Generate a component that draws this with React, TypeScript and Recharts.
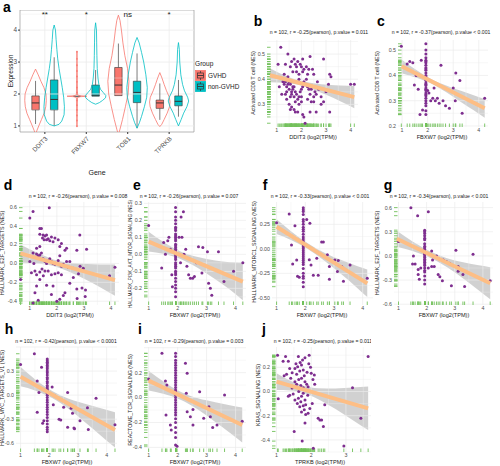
// 유전자 발현 바이올린 + 상관 산점도 패널 (Recharts)
import React from "react";
import {
  ComposedChart,
  Scatter,
  Area,
  XAxis,
  YAxis,
  ReferenceLine,
  ReferenceArea,
  ReferenceDot,
} from "recharts";

type Pt = [number, number];

// ---------- panel a : expression by group ----------
const genes = ["DDIT3", "FBXW7", "TOB1", "TPRKB"];
const signif = ["**", "*", "ns", "*"];

const gvhdLow = [1.06, 1.93, 0.72, 1.19];
const gvhdQ1 = [1.5, 1.93, 1.95, 1.55];
const gvhdMed = [1.72, 1.93, 2.28, 1.72];
const gvhdQ3 = [1.94, 1.93, 2.83, 1.81];
const gvhdHigh = [2.41, 1.93, 3.58, 2.33];

const nonLow = [1.0, 1.93, 0.93, 1.29];
const nonQ1 = [1.5, 1.93, 1.73, 1.63];
const nonMed = [1.83, 1.96, 2.05, 1.77];
const nonQ3 = [2.44, 2.28, 2.4, 1.94];
const nonHigh = [3.15, 2.75, 3.27, 2.44];

// violin outlines: expression level / relative density
const ddit3GvhdY = [2.78, 2.6, 2.4, 2.2, 2.0, 1.8, 1.6, 1.4, 1.2, 1.0, 0.85, 0.72];
const ddit3GvhdD = [0, 0.25, 0.5, 0.78, 0.97, 1.0, 0.95, 0.8, 0.55, 0.3, 0.12, 0];
const ddit3NonY = [4.16, 4.0, 3.7, 3.4, 3.1, 2.8, 2.5, 2.2, 1.9, 1.6, 1.35, 1.15, 1.05, 1.0];
const ddit3NonD = [0, 0.12, 0.18, 0.25, 0.33, 0.45, 0.6, 0.75, 0.88, 0.95, 0.92, 0.7, 0.45, 0];
const fbxw7GvhdY = [3.35, 2.5, 1.97, 1.945, 1.93, 1.915, 1.89, 1.4, 0.98];
const fbxw7GvhdD = [0, 0.03, 0.05, 0.3, 0.92, 0.3, 0.05, 0.03, 0];
const fbxw7NonY = [4.23, 4.0, 3.6, 3.2, 2.8, 2.5, 2.3, 2.15, 2.05, 1.95, 1.88, 1.8, 1.73, 1.68];
const fbxw7NonD = [0, 0.08, 0.1, 0.12, 0.15, 0.22, 0.3, 0.45, 0.7, 0.95, 0.92, 0.65, 0.35, 0];
const tob1GvhdY = [4.47, 4.3, 4.0, 3.6, 3.2, 2.8, 2.4, 2.0, 1.6, 1.2, 0.9, 0.72];
const tob1GvhdD = [0, 0.15, 0.28, 0.42, 0.6, 0.85, 0.98, 0.9, 0.65, 0.38, 0.15, 0];
const tob1NonY = [3.77, 3.6, 3.3, 3.0, 2.6, 2.2, 1.9, 1.6, 1.3, 1.1, 0.93];
const tob1NonD = [0, 0.2, 0.42, 0.62, 0.82, 0.95, 0.9, 0.68, 0.42, 0.22, 0];
const tprkbGvhdY = [2.67, 2.5, 2.3, 2.1, 1.9, 1.75, 1.6, 1.4, 1.2, 1.05, 0.98];
const tprkbGvhdD = [0, 0.2, 0.4, 0.62, 0.88, 0.95, 0.9, 0.68, 0.4, 0.18, 0];
const tprkbNonY = [3.61, 3.4, 3.0, 2.6, 2.3, 2.1, 1.9, 1.78, 1.6, 1.4, 1.2, 1.0];
const tprkbNonD = [0, 0.08, 0.12, 0.22, 0.38, 0.56, 0.85, 0.95, 0.78, 0.48, 0.25, 0];

const fbxw7GvhdJitter = [3.32, 3.1, 2.9, 2.72, 2.55, 2.38, 2.2, 2.05, 1.8, 1.65, 1.5, 1.33, 1.17, 0.99];

// ---------- scatter panels ----------
const FBXW7_MODE = 1.93;

const bPoints: Pt[] = [
  [1.16, 0.527], [1.45, 0.5], [1.05, 0.46], [1.35, 0.46], [1.55, 0.45], [1.6, 0.47], [1.7, 0.48], [1.75, 0.46],
  [1.8, 0.45], [1.85, 0.47], [1.95, 0.46], [2.0, 0.45], [2.05, 0.48], [2.35, 0.49], [2.9, 0.48], [1.8, 0.43],
  [1.9, 0.42], [2.05, 0.43], [2.1, 0.44], [2.2, 0.45], [2.25, 0.42], [2.3, 0.44], [2.45, 0.44], [2.5, 0.42],
  [1.9, 0.4], [1.45, 0.41], [1.25, 0.39], [1.3, 0.38], [1.35, 0.39], [1.4, 0.37], [1.45, 0.38], [1.5, 0.39],
  [1.55, 0.38], [1.6, 0.39], [1.65, 0.37], [1.1, 0.37], [1.4, 0.35], [1.5, 0.36], [1.6, 0.35], [1.65, 0.36],
  [1.7, 0.37], [1.2, 0.34], [1.35, 0.34], [1.4, 0.32], [1.55, 0.33], [1.6, 0.34], [1.7, 0.33], [1.75, 0.35],
  [1.8, 0.34], [1.85, 0.32], [1.9, 0.33], [1.95, 0.35], [2.0, 0.36], [2.05, 0.37], [2.1, 0.39], [2.15, 0.38],
  [2.2, 0.4], [2.25, 0.37], [2.3, 0.36], [2.35, 0.34], [2.4, 0.36], [2.5, 0.33], [2.55, 0.35], [2.6, 0.34],
  [2.7, 0.36], [2.65, 0.39], [2.0, 0.33], [2.25, 0.32], [2.4, 0.31], [2.5, 0.31], [2.0, 0.31], [1.9, 0.3],
  [1.75, 0.31], [1.5, 0.3], [1.6, 0.29], [1.55, 0.28], [1.7, 0.28], [1.75, 0.27], [1.85, 0.27], [2.05, 0.26],
  [2.1, 0.25], [2.35, 0.27], [2.6, 0.27], [2.15, 0.225], [2.8, 0.33], [2.8, 0.3], [2.9, 0.31], [3.0, 0.35],
  [3.1, 0.38], [3.15, 0.42], [3.2, 0.41], [3.15, 0.27], [4.0, 0.38], [4.15, 0.38], [1.65, 0.43], [1.3, 0.42],
];
const bFit = [0.72, 0.416, 4.15, 0.329];
const bBandX = [0.72, 1.3, 1.9, 2.5, 3.1, 3.6, 4.15];
const bBandLo = [0.388, 0.386, 0.377, 0.358, 0.334, 0.311, 0.285];
const bBandHi = [0.444, 0.416, 0.395, 0.384, 0.378, 0.375, 0.373];

const cOther: Pt[] = [
  [0.97, 0.515], [1.2, 0.445], [1.3, 0.455], [1.42, 0.45], [1.48, 0.362], [1.55, 0.4], [1.63, 0.345], [1.7, 0.245],
  [1.8, 0.263], [1.75, 0.46], [2.05, 0.33], [2.0, 0.34], [2.12, 0.3], [2.2, 0.31], [2.25, 0.35], [2.3, 0.3],
  [2.38, 0.31], [2.45, 0.29], [2.52, 0.44], [2.6, 0.3], [2.7, 0.28], [2.85, 0.27], [3.0, 0.35], [3.1, 0.41],
  [3.26, 0.38], [3.08, 0.3], [3.35, 0.25], [4.23, 0.31],
];
const cColumn = [0.525, 0.5, 0.485, 0.47, 0.46, 0.455, 0.45, 0.44, 0.43, 0.425, 0.42, 0.41, 0.4, 0.395, 0.39, 0.385,
  0.38, 0.37, 0.365, 0.36, 0.35, 0.345, 0.34, 0.33, 0.325, 0.32, 0.31, 0.3, 0.29, 0.28, 0.26, 0.245];
const cFit = [0.98, 0.436, 4.23, 0.27];
const cBandX = [0.98, 1.5, 2.1, 2.7, 3.3, 3.8, 4.23];
const cBandLo = [0.409, 0.393, 0.37, 0.335, 0.295, 0.262, 0.233];
const cBandHi = [0.463, 0.425, 0.388, 0.361, 0.339, 0.322, 0.307];

const dPoints: Pt[] = [
  [0.66, -0.17], [1.0, 0.48], [1.12, 0.55], [1.72, 0.59], [1.37, 0.37], [1.43, 0.37], [1.37, 0.31], [1.49, 0.3],
  [1.56, 0.29], [1.62, 0.3], [1.47, 0.27], [1.53, 0.25], [1.62, 0.25], [1.68, 0.26], [1.74, 0.24], [1.8, 0.28],
  [1.86, 0.23], [1.93, 0.27], [2.05, 0.25], [2.11, 0.18], [2.17, 0.21], [2.3, 0.14], [2.36, 0.16], [1.37, 0.18],
  [1.25, 0.16], [1.12, 0.11], [1.25, 0.1], [1.31, 0.08], [1.37, 0.09], [1.43, 0.11], [1.49, 0.05], [1.56, 0.02],
  [1.62, 0.0], [1.68, 0.03], [1.74, 0.05], [1.8, 0.02], [1.86, 0.0], [1.93, -0.01], [2.0, 0.0], [2.05, 0.03],
  [2.11, 0.08], [2.17, -0.03], [2.24, -0.01], [2.36, 0.02], [2.42, -0.04], [2.48, 0.02], [2.61, -0.05], [2.85, 0.3],
  [2.74, 0.14], [3.1, 0.15], [2.86, -0.03], [2.98, -0.05], [2.8, -0.11], [2.61, -0.15], [2.48, -0.21], [2.3, -0.31],
  [2.24, -0.34], [2.11, -0.38], [1.86, -0.24], [1.8, -0.33], [1.62, -0.23], [1.37, -0.17], [1.25, -0.24], [1.19, -0.31],
  [1.31, -0.39], [1.06, -0.1], [1.19, -0.08], [1.37, -0.09], [1.45, -0.06], [1.5, -0.13], [1.25, -0.12], [1.56, -0.08],
  [1.68, -0.08], [1.8, -0.12], [1.93, -0.11], [2.05, -0.1], [2.17, -0.12], [2.74, -0.27], [2.93, -0.26], [3.06, -0.28],
  [3.95, -0.13], [4.15, -0.04], [1.12, -0.42], [2.0, -0.4], [3.05, -0.35], [2.75, -0.37], [1.15, 0.0], [1.0, 0.02],
];
const dFit = [0.65, 0.106, 4.15, -0.176];
const dBandX = [0.65, 1.3, 1.9, 2.5, 3.1, 3.6, 4.15];
const dBandLo = [0.011, -0.001, -0.03, -0.093, -0.176, -0.251, -0.341];
const dBandHi = [0.201, 0.109, 0.04, 0.007, -0.006, -0.011, -0.011];

const eOther: Pt[] = [
  [1.0, 0.17], [1.52, 0.07], [1.58, 0.0], [1.66, 0.08], [1.75, 0.03], [1.8, -0.12], [1.82, -0.19], [2.05, 0.1],
  [2.12, 0.22], [2.2, 0.25], [2.15, 0.1], [2.28, 0.03], [2.22, 0.0], [2.32, -0.07], [2.38, -0.12], [2.44, -0.14],
  [2.52, -0.14], [2.58, -0.13], [2.72, 0.045], [2.84, -0.11], [2.87, 0.04], [3.03, 0.016], [3.07, -0.17], [3.13, -0.2],
  [3.18, -0.24], [3.41, 0.016], [3.6, -0.16], [3.93, -0.1], [4.25, -0.05], [2.1, -0.05], [2.65, -0.05], [1.7, 0.1],
  [1.45, -0.08],
];
const eColumn = [0.275, 0.25, 0.22, 0.2, 0.18, 0.16, 0.15, 0.14, 0.12, 0.11, 0.1, 0.09, 0.08, 0.06, 0.05, 0.04, 0.03,
  0.02, 0.01, 0.0, -0.01, -0.02, -0.03, -0.05, -0.06, -0.07, -0.08, -0.1, -0.11, -0.12, -0.14, -0.16, -0.18, -0.2,
  -0.22, -0.25];
const eFit = [1.0, 0.075, 4.25, -0.16];
const eBandX = [1.0, 1.5, 2.1, 2.7, 3.3, 3.8, 4.25];
const eBandLo = [0.017, 0.004, -0.027, -0.08, -0.146, -0.207, -0.27];
const eBandHi = [0.133, 0.074, 0.017, -0.016, -0.036, -0.047, -0.05];

const fOther: Pt[] = [
  [1.0, 0.267], [1.44, 0.355], [1.64, 0.236], [1.52, 0.04], [1.56, -0.155], [1.7, -0.114], [1.73, -0.28], [1.79, -0.29],
  [2.05, 0.3], [2.16, 0.26], [2.14, -0.11], [2.2, -0.165], [2.28, -0.27], [2.4, -0.097], [2.45, -0.27], [2.57, 0.07],
  [2.63, 0.07], [2.77, -0.06], [2.84, -0.18], [2.84, -0.31], [3.03, -0.114], [3.15, -0.12], [3.12, -0.23], [3.27, -0.18],
  [3.33, -0.33], [3.56, -0.165], [4.16, -0.3],
];
const fColumn = [0.42, 0.4, 0.38, 0.35, 0.3, 0.28, 0.25, 0.22, 0.2, 0.18, 0.15, 0.12, 0.1, 0.08, 0.06, 0.05, 0.03, 0.02,
  0.0, -0.02, -0.04, -0.06, -0.08, -0.1, -0.12, -0.14, -0.16, -0.2, -0.25, -0.28, -0.3, -0.34, -0.386];
const fFit = [1.0, 0.226, 4.16, -0.352];
const fBandX = [1.0, 1.5, 2.1, 2.7, 3.3, 3.8, 4.16];
const fBandLo = [0.151, 0.09, -0.005, -0.128, -0.27, -0.396, -0.492];
const fBandHi = [0.301, 0.18, 0.055, -0.044, -0.12, -0.176, -0.212];

const gOther: Pt[] = [
  [1.0, 0.18], [1.44, 0.6], [1.68, 0.5], [2.06, 0.55], [1.53, 0.0], [1.59, -0.1], [1.5, -0.1], [1.7, -0.23],
  [1.74, -0.29], [1.79, -0.15], [1.7, -0.17], [2.18, 0.06], [2.21, -0.05], [2.18, -0.13], [2.06, -0.15], [2.27, -0.13],
  [2.35, 0.0], [2.41, -0.23], [2.47, -0.26], [2.56, -0.31], [2.59, -0.05], [2.7, -0.07], [2.82, -0.09], [2.88, -0.37],
  [3.04, 0.07], [3.12, -0.13], [3.12, -0.19], [3.29, -0.23], [3.35, -0.38], [3.65, 0.02], [4.26, -0.31],
];
const gColumn = [0.32, 0.3, 0.28, 0.25, 0.22, 0.2, 0.15, 0.12, 0.1, 0.08, 0.06, 0.05, 0.03, 0.02, 0.0, -0.02, -0.04,
  -0.06, -0.08, -0.1, -0.12, -0.15, -0.18, -0.2, -0.25, -0.3, -0.35];
const gFit = [0.94, 0.213, 4.26, -0.34];
const gBandX = [0.94, 1.5, 2.1, 2.7, 3.3, 3.8, 4.26];
const gBandLo = [0.113, 0.06, -0.02, -0.135, -0.28, -0.414, -0.54];
const gBandHi = [0.313, 0.18, 0.06, -0.025, -0.08, -0.114, -0.14];

const hOther: Pt[] = [
  [1.0, 0.383], [1.48, 0.516], [1.73, 0.346], [1.58, 0.175], [1.64, 0.034], [1.58, -0.215], [1.81, -0.32], [1.77, -0.35],
  [2.2, -0.01], [2.14, -0.12], [2.1, 0.1], [2.34, -0.3], [2.4, -0.31], [2.5, -0.15], [2.64, 0.034], [2.76, -0.165],
  [2.81, -0.227], [2.64, -0.4], [2.86, -0.41], [2.88, -0.42], [3.07, -0.32], [3.33, -0.156], [3.36, -0.43], [3.63, -0.04],
  [4.29, -0.37],
];
const hColumn = [0.45, 0.43, 0.41, 0.39, 0.37, 0.35, 0.33, 0.3, 0.28, 0.25, 0.22, 0.2, 0.17, 0.15, 0.12, 0.1, 0.08, 0.06,
  0.04, 0.02, 0.0, -0.03, -0.06, -0.09, -0.12, -0.15, -0.18, -0.21, -0.24, -0.28, -0.32, -0.36, -0.4, -0.43, -0.455];
const hFit = [1.0, 0.23, 4.29, -0.434];
const hBandX = [1.0, 1.5, 2.1, 2.7, 3.3, 3.8, 4.29];
const hBandLo = [0.11, 0.059, -0.037, -0.178, -0.354, -0.505, -0.654];
const hBandHi = [0.35, 0.199, 0.053, -0.048, -0.114, -0.165, -0.214];

const iOther: Pt[] = [
  [1.0, 0.15], [1.46, 0.355], [1.58, 0.133], [1.63, 0.1], [1.6, -0.14], [1.75, -0.22], [1.78, -0.26], [1.98, -0.39],
  [2.27, 0.275], [2.33, 0.195], [2.3, 0.034], [2.33, -0.113], [2.44, -0.153], [2.53, -0.22], [2.53, -0.095], [2.76, 0.047],
  [2.9, -0.167], [3.08, -0.073], [3.13, -0.153], [3.21, -0.24], [3.36, -0.22], [3.62, 0.02], [4.23, -0.19],
];
const iColumn = [0.355, 0.33, 0.3, 0.28, 0.26, 0.24, 0.22, 0.2, 0.18, 0.16, 0.14, 0.12, 0.1, 0.08, 0.06, 0.05, 0.03,
  0.02, 0.0, -0.02, -0.04, -0.06, -0.08, -0.1, -0.12, -0.14, -0.17, -0.2, -0.24, -0.28, -0.32, -0.38];
const iFit = [1.0, 0.136, 4.23, -0.22];
const iBandX = [1.0, 1.5, 2.1, 2.7, 3.3, 3.8, 4.23];
const iBandLo = [0.056, 0.031, -0.017, -0.096, -0.197, -0.282, -0.36];
const iBandHi = [0.216, 0.131, 0.047, -0.006, -0.037, -0.062, -0.08];

const jPoints: Pt[] = [
  [1.03, 0.3], [1.26, 0.29], [1.19, 0.25], [1.34, 0.25], [1.63, 0.29], [1.82, 0.28], [1.94, 0.3], [3.64, 0.29],
  [1.05, -0.06], [1.38, 0.19], [1.45, 0.156], [1.53, 0.19], [1.58, 0.142], [1.61, 0.205], [1.67, 0.17], [1.72, 0.22],
  [1.77, 0.178], [1.8, 0.13], [1.72, 0.11], [1.64, 0.1], [1.53, 0.08], [1.41, 0.11], [1.29, 0.142], [1.22, 0.13],
  [1.82, 0.08], [1.87, 0.06], [1.91, 0.04], [1.77, 0.032], [1.64, 0.0], [1.77, -0.015], [1.72, -0.04], [1.38, -0.03],
  [1.34, -0.04], [1.48, -0.02], [1.53, -0.07], [1.63, -0.056], [1.7, -0.084], [1.82, -0.07], [1.67, -0.125], [1.77, -0.117],
  [1.84, -0.11], [1.8, -0.15], [1.72, -0.17], [1.84, -0.19], [1.91, -0.18], [1.96, -0.14], [2.03, -0.1], [2.1, 0.06],
  [2.2, -0.22], [2.25, -0.235], [2.3, -0.235], [2.35, -0.29], [1.82, -0.26], [1.51, -0.33], [1.74, -0.41], [2.06, -0.47],
  [2.39, -0.11], [3.19, 0.032], [3.43, -0.22], [2.94, -0.45], [2.0, 0.15], [2.05, 0.1], [2.09, 0.137], [1.58, 0.06],
  [1.7, 0.05], [1.86, 0.01], [1.6, -0.1], [1.9, -0.03], [1.45, 0.03], [1.98, 0.2], [1.88, 0.16], [1.93, 0.23],
  [1.75, 0.26], [1.56, 0.23], [1.68, 0.24],
];
const jFit = [1.0, 0.082, 3.64, -0.139];
const jBandX = [1.0, 1.4, 1.75, 2.2, 2.7, 3.2, 3.64];
const jBandLo = [0.012, 0.009, -0.011, -0.063, -0.145, -0.237, -0.319];
const jBandHi = [0.152, 0.089, 0.049, 0.027, 0.025, 0.033, 0.041];

// ---------- styling ----------
const FONT = '"Liberation Sans", Arial, Helvetica, sans-serif';
const PURPLE = "#7E2E8F";
const RUG = "#72C15A";
const FIT = "#FDBE85";
const RED = "#F8766D";
const TEAL = "#00BFC4";
const GRID = "#EBEBEB";
const TICK = "#4D4D4D";
const DODGE = 0.225;
const VW = 0.26;
const BOXW = 0.09;
const YW = 22;
const XH = 10;
const MT = 4; // room above the plot so the top tick label is not clipped

const withColumn = (other: Pt[], col: number[]): Pt[] => [...other, ...col.map((y) => [FBXW7_MODE, y] as Pt)];

const gridValues = (ticks: number[], domain: number[]) => {
  const step = ticks[1] - ticks[0];
  const out: { v: number; major: boolean }[] = [];
  for (let k = -3; k < ticks.length * 2 + 4; k++) {
    const v = +(ticks[0] + (k * step) / 2).toFixed(6);
    if (v >= domain[0] && v <= domain[1]) out.push({ v, major: k % 2 === 0 });
  }
  return out;
};

const title = (r: string, p: string) => `n = 102, r = ${r}(pearson), p.value ${p}`;

const panels = [
  {
    id: "b", rect: [267, 40, 358, 127], xDomain: [0.6, 4.3], yDomain: [0.21, 0.556], xTicks: [1, 2, 3, 4],
    yTicks: [0.3, 0.4, 0.5], digits: 1, points: bPoints, fit: bFit, bx: bBandX, lo: bBandLo, hi: bBandHi,
    title: title("-0.25", "= 0.011"), xTitle: "DDIT3 (log2(TPM))", yTitle: "Activated CD8 T cell (NES)", yTitleSize: 5.3,
    letterAt: [258, 21], titleAt: [319, 33], xTitleAt: [313, 138], yTitleAt: [254, 83],
  },
  {
    id: "c", rect: [398, 40, 488, 127], xDomain: [0.84, 4.36], yDomain: [0.196, 0.54], xTicks: [1, 2, 3, 4],
    yTicks: [0.2, 0.3, 0.4, 0.5], digits: 1, points: withColumn(cOther, cColumn), fit: cFit, bx: cBandX, lo: cBandLo, hi: cBandHi,
    title: title("-0.37", "< 0.001"), xTitle: "FBXW7 (log2(TPM))", yTitle: "Activated CD8 T cell (NES)", yTitleSize: 5.3,
    letterAt: [381, 21], titleAt: [441, 33], xTitleAt: [442, 138], yTitleAt: [378, 83],
  },
  {
    id: "d", rect: [19, 202, 119, 305], xDomain: [0.6, 4.3], yDomain: [-0.44, 0.65], xTicks: [1, 2, 3, 4],
    yTicks: [-0.4, -0.2, 0, 0.2, 0.4, 0.6], digits: 1, points: dPoints, fit: dFit, bx: dBandX, lo: dBandLo, hi: dBandHi,
    title: title("-0.26", "= 0.008"), xTitle: "DDIT3 (log2(TPM))", yTitle: "HALLMARK_E2F_TARGETS (NES)", yTitleSize: 5.3,
    letterAt: [8, 185], titleAt: [78, 197], xTitleAt: [70, 315.5], yTitleAt: [3, 253],
  },
  {
    id: "e", rect: [144, 202, 246, 305], xDomain: [0.84, 4.36], yDomain: [-0.298, 0.308], xTicks: [1, 2, 3, 4],
    yTicks: [-0.2, -0.1, 0, 0.1, 0.2, 0.3], digits: 1, points: withColumn(eOther, eColumn), fit: eFit, bx: eBandX, lo: eBandLo, hi: eBandHi,
    title: title("-0.26", "= 0.007"), xTitle: "FBXW7 (log2(TPM))", yTitle: "HALLMARK_PI3K_AKT_MTOR_SIGNALING (NES)", yTitleSize: 4.7,
    letterAt: [137, 185], titleAt: [189, 197], xTitleAt: [195, 315.5], yTitleAt: [131, 254],
  },
  {
    id: "f", rect: [272, 202, 373, 305], xDomain: [0.84, 4.36], yDomain: [-0.573, 0.478], xTicks: [1, 2, 3, 4],
    yTicks: [-0.5, -0.25, 0, 0.25], digits: 2, points: withColumn(fOther, fColumn), fit: fFit, bx: fBandX, lo: fBandLo, hi: fBandHi,
    title: title("-0.33", "< 0.001"), xTitle: "FBXW7 (log2(TPM))", yTitle: "HALLMARK_MTORC1_SIGNALING (NES)", yTitleSize: 5.3,
    letterAt: [265, 185], titleAt: [320, 197], xTitleAt: [322, 315.5], yTitleAt: [255, 252],
  },
  {
    id: "g", rect: [394, 202, 493, 305], xDomain: [0.84, 4.36], yDomain: [-0.61, 0.67], xTicks: [1, 2, 3, 4],
    yTicks: [-0.6, -0.3, 0, 0.3, 0.6], digits: 1, points: withColumn(gOther, gColumn), fit: gFit, bx: gBandX, lo: gBandLo, hi: gBandHi,
    title: title("-0.34", "< 0.001"), xTitle: "FBXW7 (log2(TPM))", yTitle: "HALLMARK_E2F_TARGETS (NES)", yTitleSize: 5.3,
    letterAt: [388, 185], titleAt: [439, 197], xTitleAt: [444, 315.5], yTitleAt: [378, 253],
  },
  {
    id: "h", rect: [16, 347, 117, 452], xDomain: [0.84, 4.36], yDomain: [-0.709, 0.6], xTicks: [1, 2, 3, 4],
    yTicks: [-0.6, -0.3, 0, 0.3], digits: 1, points: withColumn(hOther, hColumn), fit: hFit, bx: hBandX, lo: hBandLo, hi: hBandHi,
    title: title("-0.42", "< 0.0001"), xTitle: "FBXW7 (log2(TPM))", yTitle: "HALLMARK_MYC_TARGETS_V1 (NES)", yTitleSize: 5.3,
    letterAt: [9, 329], titleAt: [66, 342], xTitleAt: [67, 462.5], yTitleAt: [3, 398],
  },
  {
    id: "i", rect: [144, 347, 246, 452], xDomain: [0.84, 4.36], yDomain: [-0.437, 0.406], xTicks: [1, 2, 3, 4],
    yTicks: [-0.4, -0.2, 0, 0.2], digits: 1, points: withColumn(iOther, iColumn), fit: iFit, bx: iBandX, lo: iBandLo, hi: iBandHi,
    title: title("-0.29", "= 0.003"), xTitle: "FBXW7 (log2(TPM))", yTitle: "REACTOME_TCR_SIGNALING (NES)", yTitleSize: 5.3,
    letterAt: [140, 329], titleAt: [194, 342], xTitleAt: [195, 462.5], yTitleAt: [131, 400],
  },
  {
    id: "j", rect: [272, 347, 373, 452], xDomain: [0.87, 3.78], yDomain: [-0.5, 0.368], xTicks: [1, 2, 3],
    yTicks: [-0.4, -0.2, 0, 0.2], digits: 1, points: jPoints, fit: jFit, bx: jBandX, lo: jBandLo, hi: jBandHi,
    title: title("-0.25", "= 0.011"), xTitle: "TPRKB (log2(TPM))", yTitle: "KRAS_SIGNALING (NES)", yTitleSize: 5.3,
    letterAt: [264, 329], titleAt: [323, 342], xTitleAt: [320, 462.5], yTitleAt: [259, 395],
  },
];

function Txt({ x, y, size, children, bold = false, rotate = 0, color = "#1A1A1A", anchor = "middle" }: any) {
  return (
    <div
      style={{
        position: "absolute",
        left: x,
        top: y,
        transform: `translate(${anchor === "start" ? "0" : "-50%"}, -50%) rotate(${rotate}deg)`,
        fontSize: size,
        fontWeight: bold ? 700 : 400,
        color,
        whiteSpace: "nowrap",
        lineHeight: 1,
      }}
    >
      {children}
    </div>
  );
}

const noShape = () => <g />;

function ScatterPanel({ p }: { p: any }) {
  const [l, t, r, b] = p.rect;
  const pts = p.points.map(([x, y]: Pt) => ({ x, y }));
  const rugX = p.points.map(([x]: Pt) => ({ x, y: p.yDomain[0] }));
  const rugY = p.points.map(([, y]: Pt) => ({ x: p.xDomain[0], y }));
  const bandData = p.bx.map((x: number, i: number) => ({ x, band: [p.lo[i], p.hi[i]] }));
  const fitData = [{ x: p.fit[0], y: p.fit[1] }, { x: p.fit[2], y: p.fit[3] }];
  const xs = gridValues(p.xTicks, p.xDomain);
  const ys = gridValues(p.yTicks, p.yDomain);
  const tick = { fontSize: 5.3, fill: TICK };
  return (
    <div style={{ position: "absolute", left: l - YW, top: t - MT }}>
      <ComposedChart width={r - l + YW} height={b - t + XH + MT} data={bandData} margin={{ top: MT, right: 0, bottom: 0, left: 0 }}>
        <XAxis type="number" dataKey="x" domain={p.xDomain} ticks={p.xTicks} allowDataOverflow interval={0}
          height={XH} axisLine={false} tickLine={false} tickSize={0} tickMargin={1} tick={tick} />
        <YAxis type="number" dataKey="y" domain={p.yDomain} ticks={p.yTicks} allowDataOverflow interval={0}
          width={YW} axisLine={false} tickLine={false} tickSize={0} tickMargin={2} tick={tick}
          tickFormatter={(v: number) => v.toFixed(p.digits)} />
        {xs.map((g) => (
          <ReferenceLine key={"x" + g.v} x={g.v} stroke={GRID} strokeWidth={g.major ? 0.7 : 0.4} />
        ))}
        {ys.map((g) => (
          <ReferenceLine key={"y" + g.v} y={g.v} stroke={GRID} strokeWidth={g.major ? 0.7 : 0.4} />
        ))}
        <Scatter data={rugX} isAnimationActive={false}
          shape={(s: any) => <line x1={s.cx} x2={s.cx} y1={s.cy} y2={s.cy - 3.5} stroke={RUG} strokeWidth={0.9} />} />
        <Scatter data={rugY} isAnimationActive={false}
          shape={(s: any) => <line x1={s.cx} x2={s.cx + 3.5} y1={s.cy} y2={s.cy} stroke={RUG} strokeWidth={0.9} />} />
        <Scatter data={pts} isAnimationActive={false}
          shape={(s: any) => <circle cx={s.cx} cy={s.cy} r={1.5} fill={PURPLE} />} />
        <Area dataKey="band" type="monotone" stroke="none" fill="#999999" fillOpacity={0.45}
          isAnimationActive={false} dot={false} activeDot={false} />
        <Scatter data={fitData} isAnimationActive={false} line={{ stroke: FIT, strokeWidth: 4 }} shape={noShape} />
      </ComposedChart>
    </div>
  );
}

function PanelText({ p }: { p: any }) {
  return (
    <>
      <Txt x={p.letterAt[0]} y={p.letterAt[1]} size={14} bold color="#000">{p.id}</Txt>
      <Txt x={p.titleAt[0]} y={p.titleAt[1]} size={5.1}>{p.title}</Txt>
      <Txt x={p.xTitleAt[0]} y={p.xTitleAt[1]} size={5.6}>{p.xTitle}</Txt>
      <Txt x={p.yTitleAt[0]} y={p.yTitleAt[1]} size={p.yTitleSize} rotate={-90}>{p.yTitle}</Txt>
    </>
  );
}

const violins = [
  { gene: 0, side: -1, color: RED, y: ddit3GvhdY, d: ddit3GvhdD },
  { gene: 0, side: 1, color: TEAL, y: ddit3NonY, d: ddit3NonD },
  { gene: 1, side: -1, color: RED, y: fbxw7GvhdY, d: fbxw7GvhdD },
  { gene: 1, side: 1, color: TEAL, y: fbxw7NonY, d: fbxw7NonD },
  { gene: 2, side: -1, color: RED, y: tob1GvhdY, d: tob1GvhdD },
  { gene: 2, side: 1, color: TEAL, y: tob1NonY, d: tob1NonD },
  { gene: 3, side: -1, color: RED, y: tprkbGvhdY, d: tprkbGvhdD },
  { gene: 3, side: 1, color: TEAL, y: tprkbNonY, d: tprkbNonD },
];

const boxes = [
  ...genes.map((_, i) => ({ key: "g" + i, c: i + 1 - DODGE, color: RED, lo: gvhdLow[i], q1: gvhdQ1[i], md: gvhdMed[i], q3: gvhdQ3[i], hi: gvhdHigh[i] })),
  ...genes.map((_, i) => ({ key: "n" + i, c: i + 1 + DODGE, color: TEAL, lo: nonLow[i], q1: nonQ1[i], md: nonMed[i], q3: nonQ3[i], hi: nonHigh[i] })),
];

const GeneTick = (props: any) => {
  const { x, y, payload } = props;
  return (
    <text x={x} y={y} dy="0.72em" textAnchor="end" fontSize={6.4} fill={TICK} transform={`rotate(-45 ${x} ${y})`}>
      {genes[payload.value - 1]}
    </text>
  );
};

function ViolinPanel() {
  const L = 20, T = 10, R = 194, B = 132, yw = 14;
  const xDomain = [0.4, 4.6];
  const yDomain = [0.81, 4.63];
  const ys = gridValues([1, 2, 3, 4], yDomain);
  return (
    <div style={{ position: "absolute", left: L - yw, top: T }}>
      <ComposedChart width={R - L + yw + 1} height={B - T + 36} margin={{ top: 0, right: 1, bottom: 0, left: 0 }}>
        <XAxis type="number" dataKey="x" domain={xDomain} ticks={[1, 2, 3, 4]} allowDataOverflow interval={0}
          height={36} axisLine={false} tickLine={{ stroke: "#333" }} tickSize={2} tickMargin={2} tick={<GeneTick />} />
        <YAxis type="number" dataKey="y" domain={yDomain} ticks={[1, 2, 3, 4]} allowDataOverflow interval={0}
          width={yw} axisLine={false} tickLine={{ stroke: "#333" }} tickSize={2} tickMargin={1}
          tick={{ fontSize: 6.4, fill: TICK }} />
        {ys.map((g) => (
          <ReferenceLine key={"y" + g.v} y={g.v} stroke={GRID} strokeWidth={g.major ? 0.8 : 0.4} />
        ))}
        {[1, 2, 3, 4].map((v) => (
          <ReferenceLine key={"x" + v} x={v} stroke={GRID} strokeWidth={0.8} />
        ))}
        {violins.map((v, k) => {
          const c = v.gene + 1 + v.side * DODGE;
          const right = v.y.map((y, i) => ({ x: c + v.d[i] * VW, y }));
          const left = v.y.map((y, i) => ({ x: c - v.d[i] * VW, y })).reverse();
          return (
            <Scatter key={"v" + k} data={[...right, ...left, right[0]]} isAnimationActive={false}
              line={{ stroke: v.color, strokeWidth: 0.8 }} shape={noShape} />
          );
        })}
        <Scatter data={fbxw7GvhdJitter.map((y) => ({ x: 2 - DODGE, y }))} isAnimationActive={false}
          shape={(s: any) => <circle cx={s.cx} cy={s.cy} r={0.9} fill={RED} fillOpacity={0.8} />} />
        {boxes.map((bx) => (
          <ReferenceLine key={"wu" + bx.key} segment={[{ x: bx.c, y: bx.q3 }, { x: bx.c, y: bx.hi }]} stroke="#444" strokeWidth={0.7} />
        ))}
        {boxes.map((bx) => (
          <ReferenceLine key={"wl" + bx.key} segment={[{ x: bx.c, y: bx.lo }, { x: bx.c, y: bx.q1 }]} stroke="#444" strokeWidth={0.7} />
        ))}
        {boxes.map((bx) => (
          <ReferenceArea key={"b" + bx.key} x1={bx.c - BOXW} x2={bx.c + BOXW} y1={bx.q1} y2={bx.q3}
            fill={bx.color} fillOpacity={1} stroke="#333" strokeWidth={0.6} />
        ))}
        {boxes.map((bx) => (
          <ReferenceLine key={"m" + bx.key} segment={[{ x: bx.c - BOXW, y: bx.md }, { x: bx.c + BOXW, y: bx.md }]} stroke="#333" strokeWidth={1} />
        ))}
        {signif.map((s, i) => (
          <ReferenceDot key={"s" + i} x={i + 1} y={4.49} r={0} stroke="none"
            label={{ value: s, position: "center", fontSize: 8, fill: "#222" }} />
        ))}
        <ReferenceArea x1={xDomain[0]} x2={xDomain[1]} y1={yDomain[0]} y2={yDomain[1]} fill="none" stroke="#9A9A9A" strokeWidth={0.7} />
      </ComposedChart>
    </div>
  );
}

function LegendKey({ x, y, color }: any) {
  return (
    <svg style={{ position: "absolute", left: x, top: y }} width={11} height={11}>
      <rect x={0.5} y={0.5} width={10} height={10} fill={color} stroke={color} strokeWidth={0.8} />
      <line x1={5.5} x2={5.5} y1={1} y2={10} stroke="#333" strokeWidth={0.7} />
      <rect x={2.5} y={3} width={6} height={5} fill={color} stroke="#333" strokeWidth={0.7} />
      <line x1={2.5} x2={8.5} y1={5.5} y2={5.5} stroke="#333" strokeWidth={0.9} />
    </svg>
  );
}

export default function App() {
  const main = panels.filter((p) => p.id !== "j");
  const j = panels.find((p) => p.id === "j");
  return (
    <div style={{ position: "absolute", left: 0, top: 0, width: 500, height: 466, background: "#fff", fontFamily: FONT, overflow: "hidden" }}>
      <ViolinPanel />
      <Txt x={7} y={7} size={14} bold color="#000">a</Txt>
      <Txt x={11} y={71} size={6.6} rotate={-90}>Expression</Txt>
      <Txt x={97} y={172} size={7}>Gene</Txt>
      <Txt x={195} y={64} size={6.6} anchor="start">Group</Txt>
      <LegendKey x={195} y={70} color={RED} />
      <LegendKey x={195} y={81} color={TEAL} />
      <Txt x={208} y={75.5} size={6.4} anchor="start">GVHD</Txt>
      <Txt x={208} y={86.5} size={6.4} anchor="start">non-GVHD</Txt>
      {main.map((p) => (
        <React.Fragment key={p.id}>
          <ScatterPanel p={p} />
          <PanelText p={p} />
        </React.Fragment>
      ))}
      <div style={{ position: "absolute", left: 0, top: 0, width: 371, height: 466, overflow: "hidden" }}>
        <ScatterPanel p={j} />
        <PanelText p={j} />
      </div>
    </div>
  );
}
